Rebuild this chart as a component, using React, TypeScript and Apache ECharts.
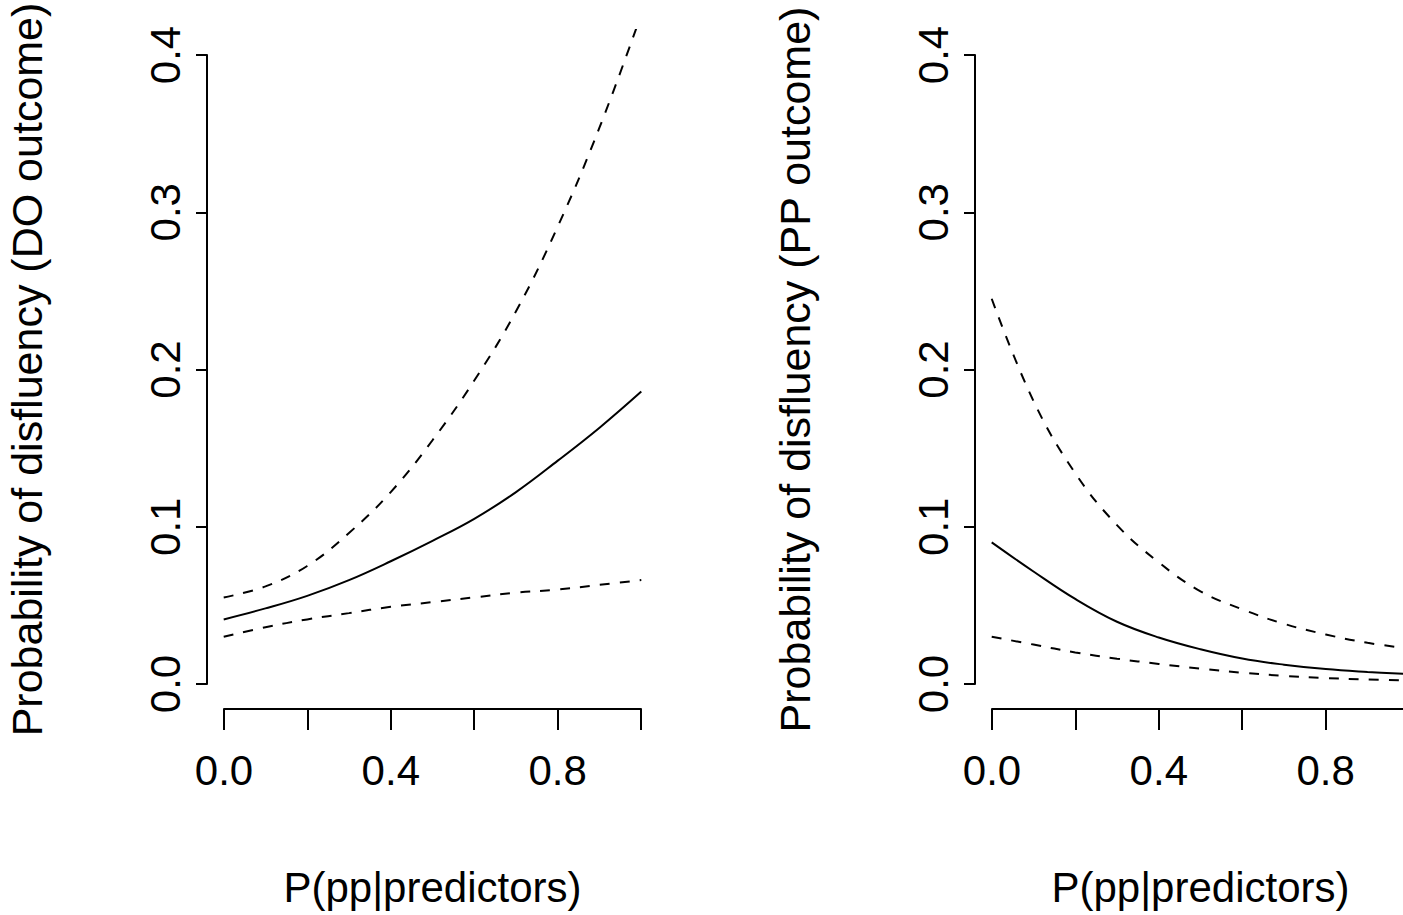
import React, { useEffect, useRef } from "react";
import * as echarts from "echarts";

// x values at which the curves were read
const ppValues = [0, 0.1, 0.2, 0.3, 0.4, 0.5, 0.6, 0.7, 0.8, 0.9, 1.0];

// Left panel: DO outcome
const doFit = [0.041, 0.048, 0.056, 0.066, 0.078, 0.091, 0.105, 0.122, 0.142, 0.163, 0.186];
const doUpper = [0.055, 0.062, 0.075, 0.096, 0.122, 0.155, 0.193, 0.237, 0.291, 0.354, 0.426];
const doLower = [0.030, 0.036, 0.041, 0.045, 0.049, 0.052, 0.055, 0.058, 0.060, 0.063, 0.066];

// Right panel: PP outcome
const ppFit = [0.090, 0.0715, 0.054, 0.0395, 0.0295, 0.022, 0.0161, 0.0122, 0.0094, 0.0076, 0.0062];
const ppUpper = [0.245, 0.180, 0.134, 0.101, 0.0773, 0.0589, 0.0474, 0.0382, 0.0314, 0.0261, 0.0225];
const ppLower = [0.030, 0.025, 0.020, 0.016, 0.0127, 0.0097, 0.0071, 0.0051, 0.0037, 0.0028, 0.0021];

// Axis ticks
const xTickValues = [0, 0.2, 0.4, 0.6, 0.8, 1.0];
const xTickLabels = ["0.0", "", "0.4", "", "0.8", ""];
const yTickValues = [0, 0.1, 0.2, 0.3, 0.4];
const yTickLabels = ["0.0", "0.1", "0.2", "0.3", "0.4"];

const xTitle = "P(pp|predictors)";
const yTitles = [
  "Probability of disfluency (DO outcome)",
  "Probability of disfluency (PP outcome)",
];

const FONT = "'Liberation Sans', Arial, Helvetica, sans-serif";
const FS = 42;
const FS_Y_TITLE = 43;

function labelFor(values: number[], labels: string[], v: number) {
  for (let i = 0; i < values.length; i++) {
    if (Math.abs(values[i] - v) < 1e-9) return labels[i];
  }
  return "";
}

function pairs(ys: number[]) {
  return ppValues.map((x, i) => [x, ys[i]]);
}

export default function App() {
  const ref = useRef<HTMLDivElement>(null);

  useEffect(() => {
    if (!ref.current) return;
    const chart = echarts.init(ref.current, null, { renderer: "svg" });

    const panels = [
      { plotLeft: 207, fit: doFit, upper: doUpper, lower: doLower },
      { plotLeft: 975, fit: ppFit, upper: ppUpper, lower: ppLower },
    ];

    const grids: any[] = [];
    const xAxes: any[] = [];
    const yAxes: any[] = [];
    const series: any[] = [];

    panels.forEach((p, k) => {
      const plotW = 451;
      const inner = 417;
      const pad = (plotW - inner) / 2;
      // plot region (data, clipped)
      grids.push({
        left: p.plotLeft,
        top: 30,
        width: plotW,
        height: 679,
        outerBoundsMode: "none",
        containLabel: false,
      });
      // axis region (ticks drawn only over data range)
      grids.push({
        left: p.plotLeft + pad,
        top: 55,
        width: inner,
        height: 629,
        outerBoundsMode: "none",
        containLabel: false,
      });
      const gA = k * 2;
      const gB = k * 2 + 1;

      xAxes.push({
        gridIndex: gA,
        type: "value",
        min: -0.04,
        max: 1.04,
        show: false,
      });
      yAxes.push({
        gridIndex: gA,
        type: "value",
        min: -0.016,
        max: 0.416,
        show: false,
      });

      xAxes.push({
        gridIndex: gB,
        type: "value",
        min: 0,
        max: 1,
        interval: 0.2,
        offset: 25,
        position: "bottom",
        axisLine: { show: true, onZero: false, lineStyle: { color: "#000", width: 2 } },
        axisTick: { show: true, inside: false, length: 21, lineStyle: { color: "#000", width: 2 } },
        splitLine: { show: false },
        axisLabel: {
          show: true,
          margin: 40,
          color: "#000",
          fontFamily: FONT,
          fontSize: FS,
          formatter: (v: number) => labelFor(xTickValues, xTickLabels, v),
        },
        name: xTitle,
        nameLocation: "middle",
        nameGap: 157,
        nameTextStyle: { color: "#000", fontFamily: FONT, fontSize: FS },
      });
      yAxes.push({
        gridIndex: gB,
        type: "value",
        min: 0,
        max: 0.4,
        interval: 0.1,
        offset: 17,
        position: "left",
        axisLine: { show: true, onZero: false, lineStyle: { color: "#000", width: 2 } },
        axisTick: { show: true, inside: false, length: 11, lineStyle: { color: "#000", width: 2 } },
        splitLine: { show: false },
        axisLabel: {
          show: true,
          rotate: 90,
          margin: 21,
          color: "#000",
          fontFamily: FONT,
          fontSize: FS,
          formatter: (v: number) => labelFor(yTickValues, yTickLabels, v),
        },
        name: yTitles[k],
        nameLocation: "middle",
        nameRotate: 90,
        nameGap: 159,
        nameTextStyle: { color: "#000", fontFamily: FONT, fontSize: FS_Y_TITLE },
      });

      const base = {
        type: "line",
        xAxisIndex: gA,
        yAxisIndex: gA,
        showSymbol: false,
        symbol: "none",
        smooth: 0.4,
        clip: true,
        silent: true,
      };
      series.push({
        ...base,
        data: pairs(p.fit),
        lineStyle: { color: "#000", width: 2, type: "solid" },
      });
      series.push({
        ...base,
        data: pairs(p.upper),
        lineStyle: { color: "#000", width: 2, type: [10, 10] },
      });
      series.push({
        ...base,
        data: pairs(p.lower),
        lineStyle: { color: "#000", width: 2, type: [10, 10] },
      });
    });

    chart.setOption({
      animation: false,
      backgroundColor: "#fff",
      grid: grids,
      xAxis: xAxes,
      yAxis: yAxes,
      series,
    });

    return () => chart.dispose();
  }, []);

  return (
    <div
      ref={ref}
      style={{ position: "fixed", left: 0, top: 0, width: 1403, height: 915, background: "#fff" }}
    />
  );
}
